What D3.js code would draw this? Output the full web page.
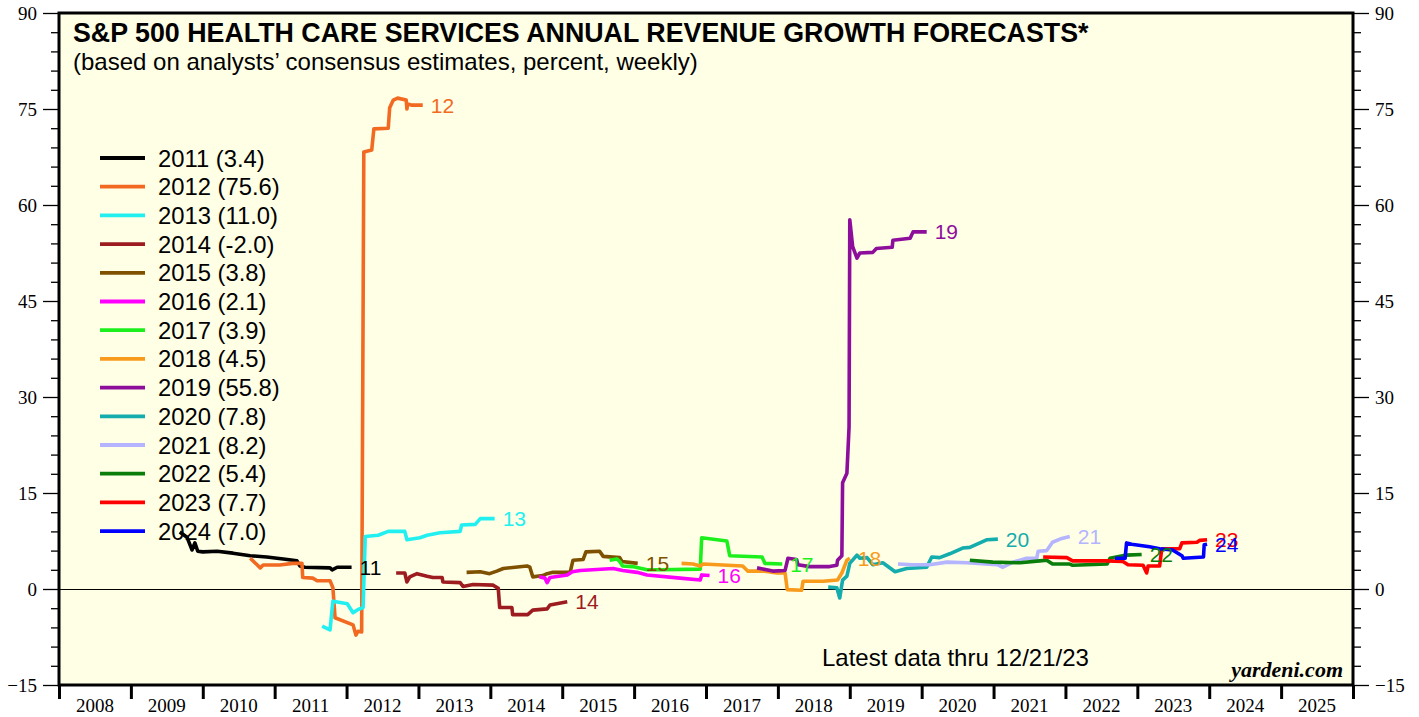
<!DOCTYPE html>
<html lang="en">
<head>
<meta charset="UTF-8">
<title>S&P 500 Health Care Services Annual Revenue Growth Forecasts</title>
<script src="https://d3js.org/d3.v7.min.js"></script>
<style>
  body { margin: 0; background: #ffffff; }
  svg { display: block; }
  .serif { font-family: "Liberation Serif", "Times New Roman", serif; }
  .sans { font-family: "Liberation Sans", Arial, sans-serif; }
</style>
</head>
<body>
<div id="chart"></div>
<script>
// forecast years shown in the legend, with the latest value
const forecastYears = [2011, 2012, 2013, 2014, 2015, 2016, 2017, 2018, 2019, 2020, 2021, 2022, 2023, 2024];
const latestValues = [3.4, 75.6, 11.0, -2.0, 3.8, 2.1, 3.9, 4.5, 55.8, 7.8, 8.2, 5.4, 7.7, 7.0];
const seriesColors = ["#000000", "#f26a22", "#22f0f0", "#9c1c20", "#7f5000", "#ff00ff", "#1cf01c",
                      "#f89a1c", "#8e0e9c", "#14acac", "#b4b4ff", "#0a7d0a", "#ff0000", "#0000ff"];
const xYears = d3.range(2008, 2026);
const yMajorTicks = [-15, 0, 15, 30, 45, 60, 75, 90];

// weekly consensus forecasts, [time (decimal year), percent]
const s2011 = [[2009.68, 8.9], [2009.78, 8.1], [2009.85, 6.1], [2009.89, 7.2], [2009.93, 5.9], [2010.00, 5.8],
  [2010.20, 5.9], [2010.42, 5.6], [2010.66, 5.2], [2010.89, 5.0], [2011.12, 4.7], [2011.31, 4.4],
  [2011.35, 3.6], [2011.42, 3.4], [2011.77, 3.3], [2011.80, 3.0], [2011.87, 3.4], [2012.07, 3.4]];
const s2012 = [[2010.66, 4.8], [2010.80, 3.3], [2010.84, 3.75], [2011.07, 3.75], [2011.25, 4.0], [2011.38, 4.0],
  [2011.39, 1.8], [2011.53, 1.7], [2011.59, 1.3], [2011.77, 1.3], [2011.81, 0.2], [2011.84, -4.5],
  [2012.09, -5.6], [2012.13, -7.2], [2012.16, -6.6], [2012.21, -6.7], [2012.24, 68.3], [2012.35, 68.6],
  [2012.38, 71.9], [2012.58, 72.0], [2012.60, 75.2], [2012.65, 76.4], [2012.71, 76.7], [2012.83, 76.4],
  [2012.84, 75.0], [2012.85, 75.8], [2012.91, 75.6], [2013.06, 75.6]];
const s2013 = [[2011.66, -5.8], [2011.77, -6.4], [2011.81, -1.9], [2012.01, -2.3], [2012.09, -3.7], [2012.16, -3.2],
  [2012.23, -2.9], [2012.26, 8.2], [2012.44, 8.4], [2012.58, 9.0], [2012.81, 9.0], [2012.84, 7.7],
  [2013.02, 8.0], [2013.12, 8.4], [2013.30, 8.8], [2013.58, 9.0], [2013.60, 10.0], [2013.79, 10.1],
  [2013.86, 11.0], [2014.06, 11.0]];
const s2014 = [[2012.69, 2.5], [2012.81, 2.5], [2012.84, 1.1], [2012.88, 1.9], [2012.98, 2.4], [2013.12, 2.0],
  [2013.20, 1.8], [2013.33, 1.8], [2013.34, 1.1], [2013.58, 1.0], [2013.62, 0.4], [2013.76, 0.7],
  [2014.04, 0.6], [2014.11, 0.1], [2014.13, -2.9], [2014.30, -2.9], [2014.31, -4.0], [2014.52, -4.0],
  [2014.59, -3.3], [2014.79, -3.1], [2014.83, -2.5], [2015.07, -2.0]];
const s2015 = [[2013.67, 2.6], [2013.86, 2.7], [2013.99, 2.4], [2014.09, 2.8], [2014.18, 3.2], [2014.51, 3.6],
  [2014.55, 3.4], [2014.59, 1.9], [2014.73, 2.1], [2014.79, 2.4], [2014.87, 2.6], [2015.11, 2.6],
  [2015.15, 4.5], [2015.29, 4.6], [2015.33, 5.8], [2015.52, 5.9], [2015.57, 5.1], [2015.80, 4.9],
  [2015.83, 4.3], [2016.05, 4.0]];
const s2016 = [[2014.68, 1.9], [2014.76, 1.7], [2014.79, 1.0], [2014.83, 1.8], [2015.07, 2.2], [2015.14, 2.7],
  [2015.25, 2.9], [2015.71, 3.2], [2015.84, 2.9], [2016.04, 2.6], [2016.18, 2.2], [2016.64, 1.7],
  [2016.92, 1.4], [2016.94, 2.2], [2017.05, 2.1]];
const s2017 = [[2015.66, 4.5], [2015.76, 4.7], [2015.80, 4.3], [2015.84, 3.6], [2015.98, 3.5], [2016.18, 3.0],
  [2016.36, 3.0], [2016.92, 3.1], [2016.94, 8.0], [2017.29, 7.5], [2017.33, 5.2], [2017.78, 5.0],
  [2017.82, 4.0], [2018.06, 3.9]];
const s2018 = [[2016.66, 4.0], [2016.82, 3.9], [2016.92, 3.6], [2016.96, 3.9], [2017.51, 3.6], [2017.58, 2.8],
  [2017.79, 2.8], [2017.99, 2.5], [2018.10, 2.5], [2018.13, -0.1], [2018.33, -0.2], [2018.35, 1.2],
  [2018.63, 1.2], [2018.83, 1.4], [2018.89, 2.5], [2018.96, 4.5], [2019.00, 4.8]];
const s2019 = [[2017.71, 3.3], [2017.93, 2.8], [2018.10, 2.9], [2018.14, 4.8], [2018.26, 4.6], [2018.28, 3.8],
  [2018.44, 3.5], [2018.72, 3.5], [2018.82, 3.7], [2018.83, 4.5], [2018.89, 5.2], [2018.90, 16.6],
  [2018.96, 18.1], [2018.99, 25.3], [2019.00, 57.7], [2019.04, 53.5], [2019.10, 51.7], [2019.14, 52.5],
  [2019.32, 52.6], [2019.37, 53.2], [2019.59, 53.4], [2019.60, 54.5], [2019.84, 54.8], [2019.88, 55.8],
  [2020.07, 55.8]];
const s2020 = [[2018.70, 0.3], [2018.82, 0.2], [2018.86, -1.4], [2018.90, 1.4], [2018.96, 2.0], [2019.00, 4.0],
  [2019.10, 5.3], [2019.14, 4.8], [2019.24, 4.9], [2019.32, 3.8], [2019.46, 4.1], [2019.63, 2.7],
  [2019.79, 3.2], [2020.07, 3.4], [2020.14, 5.0], [2020.25, 4.9], [2020.39, 5.5], [2020.57, 6.4],
  [2020.67, 6.5], [2020.81, 7.2], [2020.91, 7.7], [2021.06, 7.8]];
const s2021 = [[2019.67, 3.9], [2019.88, 3.8], [2020.11, 3.8], [2020.35, 4.2], [2020.63, 4.1], [2021.05, 3.8],
  [2021.13, 3.4], [2021.27, 4.2], [2021.46, 4.8], [2021.60, 4.8], [2021.62, 5.9], [2021.74, 6.0],
  [2021.82, 7.3], [2021.95, 7.9], [2022.06, 8.2]];
const s2022 = [[2020.67, 4.5], [2020.99, 4.2], [2021.37, 4.1], [2021.64, 4.4], [2021.74, 4.5], [2021.82, 3.9],
  [2022.06, 3.9], [2022.10, 3.7], [2022.58, 3.9], [2022.62, 4.8], [2022.85, 5.3], [2023.06, 5.4]];
const s2023 = [[2021.69, 5.0], [2022.02, 4.9], [2022.10, 4.4], [2022.58, 4.4], [2022.80, 4.3], [2022.87, 3.8],
  [2023.08, 3.7], [2023.13, 2.5], [2023.15, 3.6], [2023.31, 3.6], [2023.34, 6.3], [2023.59, 6.3],
  [2023.62, 7.2], [2023.83, 7.3], [2023.87, 7.6], [2023.97, 7.7]];
const s2024 = [[2022.69, 4.8], [2022.83, 4.8], [2022.85, 7.2], [2022.92, 7.0], [2023.17, 6.6], [2023.31, 6.3],
  [2023.49, 6.1], [2023.62, 5.2], [2023.64, 4.8], [2023.92, 5.0], [2023.93, 6.9], [2023.97, 7.0]];

const seriesData = [s2011, s2012, s2013, s2014, s2015, s2016, s2017, s2018, s2019, s2020, s2021, s2022, s2023, s2024];

const width = 1419, height = 717;
const plot = { left: 59, right: 1353, top: 13, bottom: 685 };

const svg = d3.select('#chart').append('svg')
    .attr('width', width)
    .attr('height', height);

const x = d3.scaleLinear().domain([2008, 2026]).range([plot.left, plot.right]);
const y = d3.scaleLinear().domain([-15, 90]).range([plot.bottom, plot.top]);

// plot background
svg.append('rect')
    .attr('x', plot.left).attr('y', plot.top)
    .attr('width', plot.right - plot.left).attr('height', plot.bottom - plot.top)
    .attr('fill', '#ffffe6');

// y axes, minor ticks every 3 points
const minorTicks = d3.range(-15, 91, 3).filter(v => !yMajorTicks.includes(v));

function styleAxis(g) {
    g.select('.domain').remove();
    g.selectAll('line').attr('stroke', '#000').attr('stroke-width', 1.3);
    g.selectAll('text').attr('class', 'serif').attr('font-size', 19).attr('fill', '#000');
}

svg.append('g').attr('transform', `translate(${plot.left},0)`)
    .call(d3.axisLeft(y).tickValues(yMajorTicks).tickSize(16).tickPadding(6).tickFormat(d3.format('d')))
    .call(styleAxis);
svg.append('g').attr('transform', `translate(${plot.left},0)`)
    .call(d3.axisLeft(y).tickValues(minorTicks).tickSize(8).tickFormat(''))
    .call(styleAxis);
svg.append('g').attr('transform', `translate(${plot.right},0)`)
    .call(d3.axisRight(y).tickValues(yMajorTicks).tickSize(16).tickPadding(6).tickFormat(d3.format('d')))
    .call(styleAxis);
svg.append('g').attr('transform', `translate(${plot.right},0)`)
    .call(d3.axisRight(y).tickValues(minorTicks).tickSize(8).tickFormat(''))
    .call(styleAxis);

// x axis: ticks at year boundaries, labels centred in each year
const xAxis = svg.append('g').attr('transform', `translate(0,${plot.bottom})`)
    .call(d3.axisBottom(x).tickValues(d3.range(2008, 2027)).tickSize(14).tickFormat(''));
xAxis.select('.domain').remove();
xAxis.selectAll('line').attr('stroke', '#000').attr('stroke-width', 3);

svg.append('g').selectAll('text')
    .data(xYears)
    .enter().append('text')
    .attr('class', 'serif')
    .attr('x', d => x(d + 0.5))
    .attr('y', 712)
    .attr('text-anchor', 'middle')
    .attr('font-size', 19)
    .text(d => d);

// zero line
svg.append('line')
    .attr('x1', plot.left).attr('x2', plot.right)
    .attr('y1', y(0)).attr('y2', y(0))
    .attr('stroke', '#000').attr('stroke-width', 1)
    .attr('shape-rendering', 'crispEdges');

// forecast lines
const line = d3.line().x(d => x(d[0])).y(d => y(d[1]));

seriesData.forEach((data, i) => {
    svg.append('path')
        .datum(data)
        .attr('d', line)
        .attr('fill', 'none')
        .attr('stroke', seriesColors[i])
        .attr('stroke-width', 3.6)
        .attr('stroke-linejoin', 'round');
});

seriesData.forEach((data, i) => {
    const last = data[data.length - 1];
    svg.append('text')
        .attr('class', 'sans')
        .attr('x', x(last[0]) + 8)
        .attr('y', y(last[1]))
        .attr('dy', '0.36em')
        .attr('font-size', 21)
        .attr('fill', seriesColors[i])
        .text(String(forecastYears[i]).slice(2));
});

// frame
svg.append('rect')
    .attr('x', plot.left).attr('y', plot.top)
    .attr('width', plot.right - plot.left).attr('height', plot.bottom - plot.top)
    .attr('fill', 'none')
    .attr('stroke', '#000')
    .attr('stroke-width', 3);

// titles
svg.append('text')
    .attr('class', 'sans')
    .attr('x', 73).attr('y', 42)
    .attr('font-size', 26.8).attr('font-weight', 'bold')
    .text('S&P 500 HEALTH CARE SERVICES ANNUAL REVENUE GROWTH FORECASTS*');
svg.append('text')
    .attr('class', 'sans')
    .attr('x', 73).attr('y', 70)
    .attr('font-size', 24)
    .text('(based on analysts\u2019 consensus estimates, percent, weekly)');

// legend
const legend = svg.append('g');
forecastYears.forEach((yr, i) => {
    const ly = 158 + i * 28.7;
    legend.append('line')
        .attr('x1', 100).attr('x2', 145)
        .attr('y1', ly).attr('y2', ly)
        .attr('stroke', seriesColors[i])
        .attr('stroke-width', 3.8);
    legend.append('text')
        .attr('class', 'sans')
        .attr('x', 158).attr('y', ly)
        .attr('dy', '0.36em')
        .attr('font-size', 23.8)
        .text(`${yr} (${latestValues[i].toFixed(1)})`);
});

// notes
svg.append('text')
    .attr('class', 'sans')
    .attr('x', 822).attr('y', 666)
    .attr('font-size', 24)
    .text('Latest data thru 12/21/23');
svg.append('text')
    .attr('class', 'serif')
    .attr('x', 1343).attr('y', 677)
    .attr('text-anchor', 'end')
    .attr('font-size', 22)
    .attr('font-weight', 'bold')
    .attr('font-style', 'italic')
    .text('yardeni.com');
</script>
</body>
</html>
